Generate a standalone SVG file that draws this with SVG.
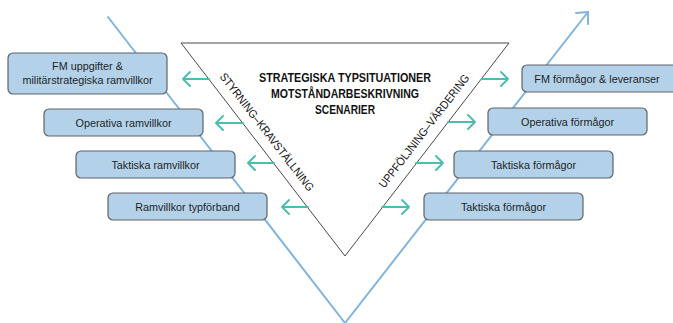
<svg xmlns="http://www.w3.org/2000/svg" width="673" height="323" viewBox="0 0 673 323">
  <defs>
    <style>
      .vline { fill: none; stroke: #82b4dc; stroke-width: 2; stroke-linecap: round; stroke-linejoin: round; }
      .tri { fill: #ffffff; stroke: #4a4a4a; stroke-width: 1; }
      .box { fill: #b3d2ea; stroke: #5f6368; stroke-width: 1.2; }
      .lbl { font-family: "Liberation Sans", Arial, sans-serif; font-size: 10.8px; fill: #1e1e1e; text-anchor: middle; }
      .title { font-family: "Liberation Sans", Arial, sans-serif; font-size: 12.5px; font-weight: bold; fill: #111; text-anchor: middle; }
      .side { font-family: "Liberation Sans", Arial, sans-serif; font-size: 11.5px; fill: #111; text-anchor: middle; }
      .arr { fill: none; stroke: #4dbdae; stroke-width: 2; stroke-linecap: round; stroke-linejoin: round; }
    </style>
  </defs>

  <!-- backbone V with arrow on the rising branch -->
  <g id="backbone">
    <polyline class="vline" points="108,17 345,323 588,12"/>
    <polyline class="vline" points="576,13 588,12 588,24"/>
  </g>

  <!-- central inverted triangle -->
  <g id="triangle">
    <polygon class="tri" points="181,43 509,43 345,256"/>
    <text class="title" x="345" y="82" textLength="172" lengthAdjust="spacingAndGlyphs">STRATEGISKA TYPSITUATIONER</text>
    <text class="title" x="345" y="98" textLength="148" lengthAdjust="spacingAndGlyphs">MOTSTÅNDARBESKRIVNING</text>
    <text class="title" x="345" y="114" textLength="60" lengthAdjust="spacingAndGlyphs">SCENARIER</text>
    <text class="side" transform="translate(267,132) rotate(52.3)" y="4" textLength="146" lengthAdjust="spacingAndGlyphs">STYRNING–KRAVSTÄLLNING</text>
    <text class="side" transform="translate(424,131) rotate(-52.3)" y="4" textLength="140" lengthAdjust="spacingAndGlyphs">UPPFÖLJNING–VÄRDERING</text>
  </g>

  <!-- left column -->
  <g id="fm-uppgifter">
    <rect class="box" x="8" y="53" width="159" height="41" rx="5"/>
    <text class="lbl" x="87.5" y="70">FM uppgifter &amp;</text>
    <text class="lbl" x="87.5" y="84">militärstrategiska ramvillkor</text>
  </g>
  <g id="operativa-ramvillkor">
    <rect class="box" x="44" y="109" width="159" height="27" rx="5"/>
    <text class="lbl" x="123.5" y="126.5">Operativa ramvillkor</text>
  </g>
  <g id="taktiska-ramvillkor">
    <rect class="box" x="76" y="151" width="159" height="27" rx="5"/>
    <text class="lbl" x="155.5" y="168.5">Taktiska ramvillkor</text>
  </g>
  <g id="ramvillkor-typforband">
    <rect class="box" x="108" y="193" width="159" height="27" rx="5"/>
    <text class="lbl" x="187.5" y="210.5">Ramvillkor typförband</text>
  </g>

  <!-- right column -->
  <g id="fm-formagor">
    <rect class="box" x="522" y="65" width="159" height="27" rx="5"/>
    <text class="lbl" x="597" y="82.5">FM förmågor &amp; leveranser</text>
  </g>
  <g id="operativa-formagor">
    <rect class="box" x="488" y="108" width="159" height="27" rx="5"/>
    <text class="lbl" x="567.5" y="125.5">Operativa förmågor</text>
  </g>
  <g id="taktiska-formagor-1">
    <rect class="box" x="454" y="151" width="159" height="27" rx="5"/>
    <text class="lbl" x="533.5" y="168.5">Taktiska förmågor</text>
  </g>
  <g id="taktiska-formagor-2">
    <rect class="box" x="424" y="193" width="159" height="27" rx="5"/>
    <text class="lbl" x="503.5" y="210.5">Taktiska förmågor</text>
  </g>

  <!-- connectors -->
  <g id="connectors">
    <!-- left: out of the triangle towards the requirement boxes -->
    <path class="arr" d="M209,79 H183 M190,72 L183,79 L190,86"/>
    <path class="arr" d="M243,123 H216 M223,116 L216,123 L223,130"/>
    <path class="arr" d="M274,163 H248 M255,156 L248,163 L255,170"/>
    <path class="arr" d="M308,207 H282 M289,200 L282,207 L289,214"/>
    <!-- right: out of the triangle towards the capability boxes -->
    <path class="arr" d="M482,79 H508 M501,72 L508,79 L501,86"/>
    <path class="arr" d="M448,122 H475 M468,115 L475,122 L468,129"/>
    <path class="arr" d="M416,163 H443 M436,156 L443,163 L436,170"/>
    <path class="arr" d="M382,207 H409 M402,200 L409,207 L402,214"/>
  </g>
</svg>
